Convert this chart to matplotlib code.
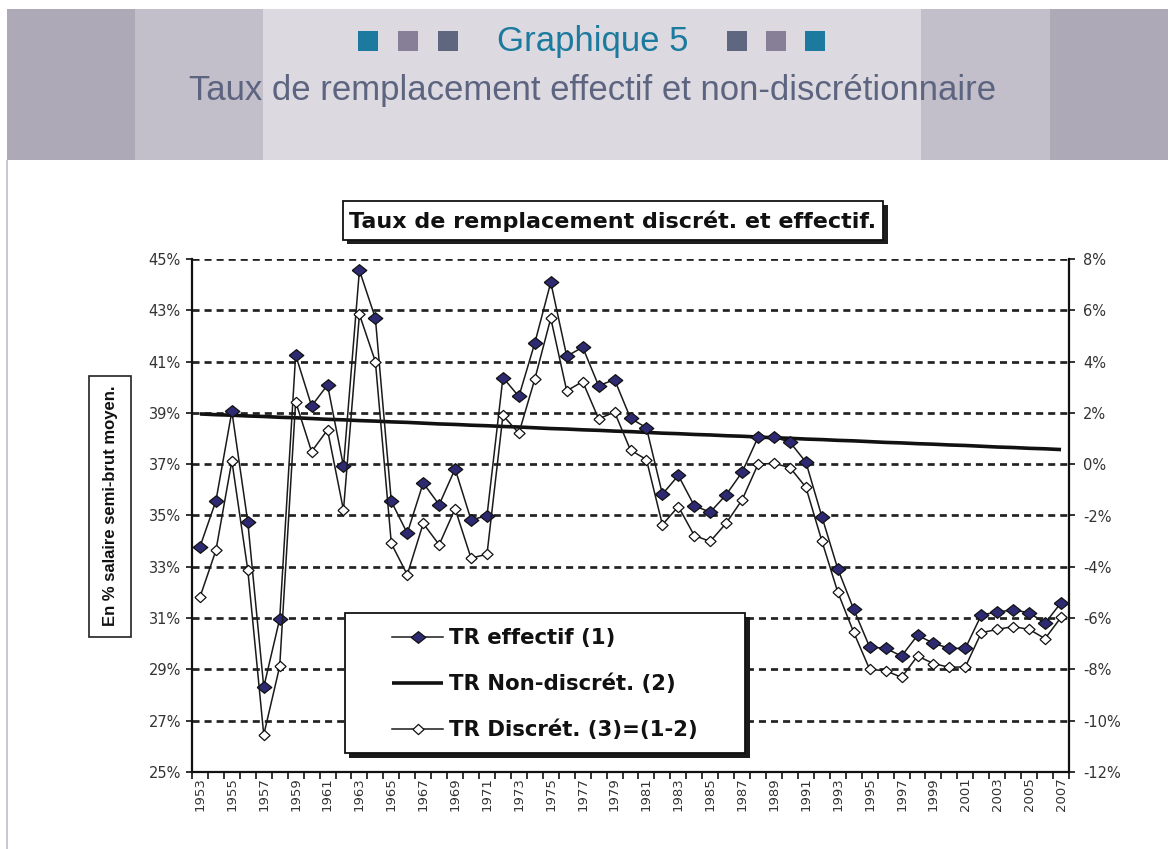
import matplotlib
matplotlib.use('Agg')
import matplotlib.pyplot as plt
from matplotlib.patches import Rectangle
import numpy as np

# ---------------- data ----------------
years = list(range(1953, 2008))

tr_effectif = [
    33.78, 35.57, 39.06, 34.74, 28.31, 30.97, 41.26, 39.27, 40.09, 36.92,
    44.56, 42.69, 35.55, 34.31, 36.27, 35.42, 36.82, 34.83, 34.99, 40.38,
    39.64, 41.73, 44.09, 41.21, 41.56, 40.06, 40.30, 38.79, 38.42, 35.83,
    36.56, 35.38, 35.13, 35.81, 36.69, 38.05, 38.05, 37.86, 37.08, 34.96,
    32.92, 31.34, 29.87, 29.82, 29.52, 30.33, 30.02, 29.82, 29.82, 31.12,
    31.24, 31.32, 31.21, 30.80, 31.60]

tr_non_discret = [
    38.96, 38.93, 38.91, 38.88, 38.86, 38.83, 38.81, 38.78, 38.75, 38.73,
    38.70, 38.68, 38.65, 38.63, 38.60, 38.57, 38.55, 38.52, 38.50, 38.47,
    38.45, 38.42, 38.39, 38.37, 38.34, 38.32, 38.29, 38.27, 38.24, 38.21,
    38.19, 38.16, 38.14, 38.11, 38.09, 38.06, 38.03, 38.01, 37.98, 37.96,
    37.93, 37.91, 37.88, 37.85, 37.83, 37.80, 37.78, 37.75, 37.73, 37.70,
    37.67, 37.65, 37.62, 37.60, 37.57]

# right axis (percentage points)
tr_discret = [
    -5.18, -3.36, 0.13, -4.13, -10.55, -7.88, 2.44, 0.49, 1.34, -1.79,
    5.84, 4.00, -3.09, -4.31, -2.31, -3.14, -1.74, -3.66, -3.51, 1.90,
    1.21, 3.32, 5.69, 2.86, 3.22, 1.77, 2.03, 0.55, 0.18, -2.36,
    -1.65, -2.78, -3.01, -2.30, -1.39, 0.00, 0.03, -0.13, -0.90, -2.99,
    -4.99, -6.56, -8.00, -8.05, -8.31, -7.48, -7.77, -7.92, -7.90, -6.57,
    -6.44, -6.33, -6.44, -6.80, -5.97]

left_ticks = [25, 27, 29, 31, 33, 35, 37, 39, 41, 43, 45]
right_ticks = [-12, -10, -8, -6, -4, -2, 0, 2, 4, 6, 8]
left_labels = [f"{v}%" for v in left_ticks]
right_labels = [f"{v}%" for v in right_ticks]
year_label_pos = years[::2]
year_labels = [str(y) for y in year_label_pos]

header_title = "Graphique 5"
header_subtitle = "Taux de remplacement effectif et non-discrétionnaire"
chart_title = "Taux de remplacement discrét. et effectif."
y_title = "En % salaire semi-brut moyen."
legend_labels = ["TR effectif (1)", "TR Non-discrét. (2)", "TR Discrét. (3)=(1-2)"]

# ---------------- figure ----------------
plt.rcParams['font.family'] = ['DejaVu Sans']
W, H = 1168, 849
fig = plt.figure(figsize=(W / 100, H / 100), dpi=100)
fig.patch.set_facecolor('white')


def fx(x):
    return x / W


def fy(y):
    return 1 - y / H


def rect(x0, y0, x1, y1, **kw):
    r = Rectangle((fx(x0), fy(y1)), (x1 - x0) / W, (y1 - y0) / H,
                  transform=fig.transFigure, **kw)
    fig.add_artist(r)
    return r


# header bands
rect(7, 9, 1168, 160, fc='#ADA9B7', ec='none', zorder=0.5)
rect(135, 9, 1050, 160, fc='#C2BECA', ec='none', zorder=0.6)
rect(263, 9, 921, 160, fc='#DCDAE0', ec='none', zorder=0.7)
rect(6, 160, 8, 849, fc='#CAC8D0', ec='none', zorder=0.7)

sq_cols = ['#1B7A9D', '#877F97', '#5E6680', '#5E6680', '#877F97', '#1B7A9D']
sq_x = [358, 398, 438, 727, 766, 805]
for c, x in zip(sq_cols, sq_x):
    rect(x, 31, x + 20, 51, fc=c, ec='none', zorder=0.8)

fig.text(fx(592.5), fy(51), header_title, ha='center', va='baseline',
         fontsize=25, color='#1B7A9D', family='Liberation Sans')
fig.text(fx(592.5), fy(100), header_subtitle, ha='center', va='baseline',
         fontsize=25, color='#5D6480', family='Liberation Sans')

# chart title box
rect(347, 205, 888, 244, fc='#1E1E1E', ec='none', zorder=1)
rect(343, 201, 883, 240, fc='white', ec='#111111', lw=1.3, zorder=1.1)
fig.text(fx(613), fy(221), chart_title, ha='center', va='center',
         fontsize=16, fontweight='bold', color='#111111', zorder=3)

# y title box
rect(89, 376, 131, 637, fc='white', ec='#222222', lw=1.2, zorder=1)
fig.text(fx(110), fy(506), y_title, ha='center', va='center', rotation=90,
         fontsize=12, fontweight='bold', color='#111111',
         family='Liberation Sans', zorder=3)

# ---------------- axes ----------------
ax = fig.add_axes([fx(192), fy(772), (1069 - 192) / W, (772 - 259) / H])
ax.set_xlim(years[0] - 0.5, years[-1] + 0.5)
ax.set_ylim(left_ticks[0], left_ticks[-1])
ax.set_facecolor('white')

ax.yaxis.grid(True, color='#222222', lw=1.95, ls=(0, (2.6, 1.85)), zorder=0.5)
ax.set_axisbelow(True)

diamond_eff = [(-1, 0), (0, 0.8), (1, 0), (0, -0.8), (-1, 0)]
diamond_dis = [(-1, 0), (0, 0.92), (1, 0), (0, -0.92), (-1, 0)]

l_nd, = ax.plot(years, tr_non_discret, color='#111111', lw=2.6,
                solid_capstyle='butt', zorder=3)
l_eff, = ax.plot(years, tr_effectif, color='#1a1a1a', lw=1.1,
                 marker=diamond_eff, ms=10.5, mfc='#2D2A72', mec='#111111',
                 mew=0.9, zorder=4)

ax2 = ax.twinx()
ax2.set_ylim(right_ticks[0], right_ticks[-1])
l_dis, = ax2.plot(years, tr_discret, color='#1a1a1a', lw=1.1,
                  marker=diamond_dis, ms=8, mfc='white', mec='#111111',
                  mew=0.9, zorder=4)

# ticks
ax.set_yticks(left_ticks)
ax.set_yticklabels(left_labels)
ax.tick_params(axis='y', direction='out', length=4, width=1.2, pad=4,
               labelsize=10.5, labelcolor='#333333', color='#111111')
ax2.set_yticks(right_ticks)
ax2.set_yticklabels(right_labels)
ax2.tick_params(axis='y', direction='out', length=4, width=1.2, pad=6,
                labelsize=10.5, labelcolor='#333333', color='#111111')

bounds = [y - 0.5 for y in years] + [years[-1] + 0.5]
ax.set_xticks(bounds)
ax.set_xticks(year_label_pos, minor=True)
ax.set_xticklabels(year_labels, minor=True, rotation=90)
ax.tick_params(axis='x', which='major', direction='out', length=5, width=1.2,
               labelbottom=False, color='#111111')
ax.tick_params(axis='x', which='minor', length=0, pad=4, labelsize=9.5,
               labelcolor='#333333')

for sp in ['top', 'right']:
    ax.spines[sp].set_visible(False)
for sp in ['top', 'left', 'bottom']:
    ax2.spines[sp].set_visible(False)
for s in [ax.spines['left'], ax.spines['bottom'], ax2.spines['right']]:
    s.set_linewidth(1.6)
    s.set_color('#111111')

# legend box + legend
rect(349, 617, 750, 758, fc='#1A1A1A', ec='none', zorder=1)
rect(345, 613, 745, 753, fc='white', ec='#111111', lw=1.3, zorder=1.1)
leg = fig.legend(handles=[l_eff, l_nd, l_dis], labels=legend_labels,
                 loc='upper left', bbox_to_anchor=(fx(392), fy(628)),
                 bbox_transform=fig.transFigure, frameon=False, borderpad=0,
                 borderaxespad=0, handlelength=2.4, handletextpad=0.28,
                 labelspacing=1.2,
                 prop=dict(family='DejaVu Sans', weight='bold', size=15.3))
for t in leg.get_texts():
    t.set_color('#111111')

fig.savefig('out.png', dpi=100, facecolor='white')
